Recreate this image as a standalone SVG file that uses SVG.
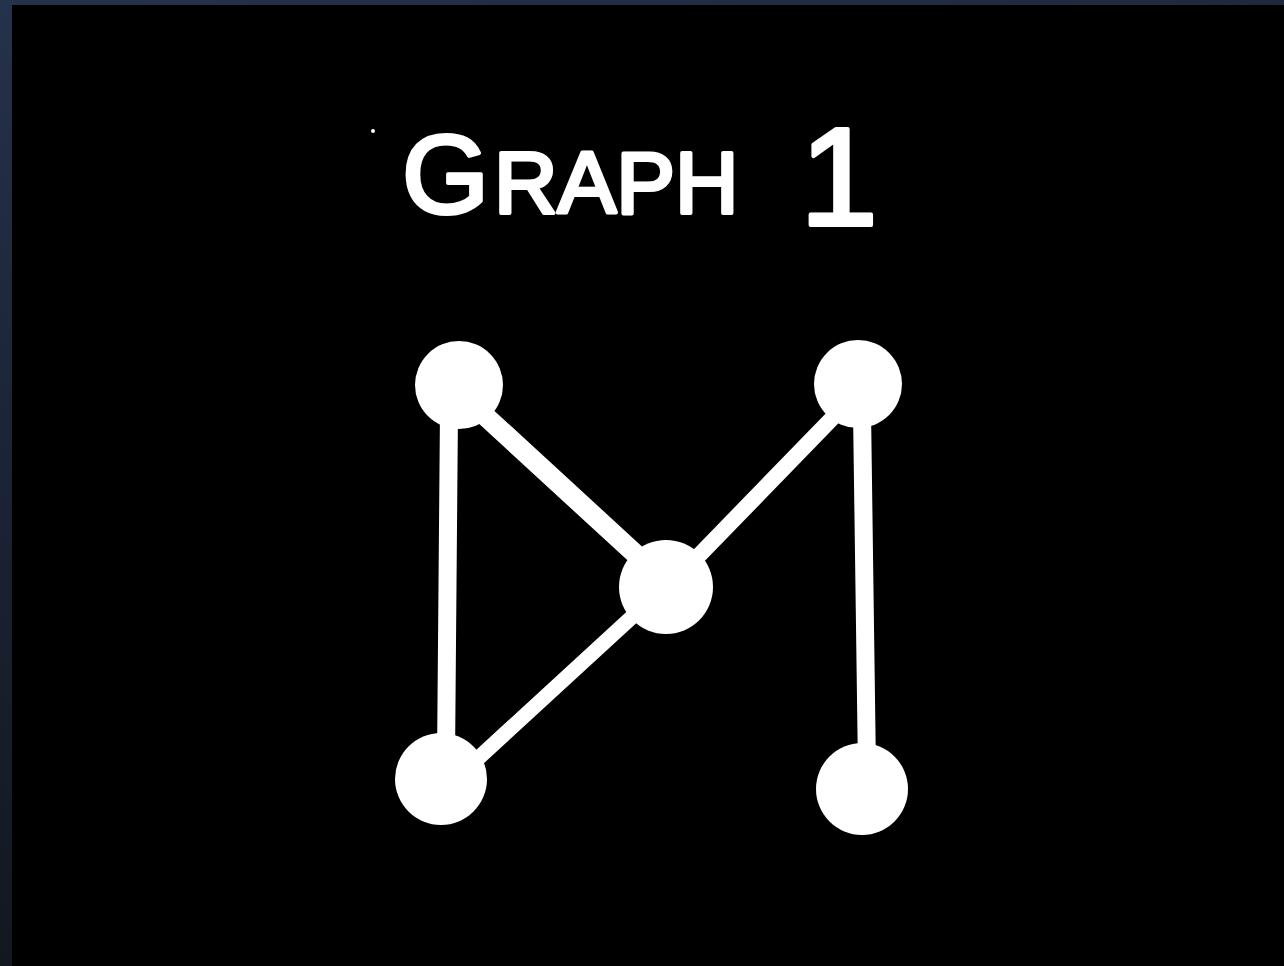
<svg xmlns="http://www.w3.org/2000/svg" width="1284" height="966" viewBox="0 0 1284 966">
  <defs>
    <linearGradient id="bg" x1="0" y1="0" x2="0.3" y2="1">
      <stop offset="0" stop-color="#24324b"/>
      <stop offset="0.5" stop-color="#1a2233"/>
      <stop offset="1" stop-color="#11151c"/>
    </linearGradient>
    <style>
      .edge { stroke: #ffffff; stroke-linecap: round; fill: none; }
      .node { fill: #ffffff; }
      .title { font-family: "Liberation Sans", Arial, sans-serif; font-size: 88px; fill: #ffffff; stroke: #ffffff; stroke-width: 4; stroke-linejoin: round; }
    </style>
  </defs>
  <rect x="0" y="0" width="1284" height="966" fill="url(#bg)"/>
  <rect x="12" y="5" width="1272" height="961" fill="#000000"/>

  <g id="title">
    <circle cx="373" cy="131" r="2" fill="#ffffff"/>
    <text class="title" x="402" y="213"><tspan font-size="112">G</tspan><tspan x="494">RAPH</tspan><tspan x="800" y="225" font-size="140">1</tspan></text>
  </g>

  <g id="connectors">
    <line class="edge" x1="449" y1="410" x2="446" y2="760" stroke-width="18"/>
    <line class="edge" x1="470" y1="402" x2="655" y2="572" stroke-width="20"/>
    <line class="edge" x1="848" y1="402" x2="680" y2="575" stroke-width="16"/>
    <line class="edge" x1="645" y1="605" x2="460" y2="775" stroke-width="15"/>
    <line class="edge" x1="862" y1="410" x2="867" y2="770" stroke-width="18"/>
  </g>

  <g id="node-top-left"><circle class="node" cx="459" cy="385" r="44"/></g>
  <g id="node-top-right"><circle class="node" cx="858" cy="384" r="44"/></g>
  <g id="node-center"><circle class="node" cx="666" cy="587" r="47"/></g>
  <g id="node-bottom-left"><circle class="node" cx="441" cy="779" r="46"/></g>
  <g id="node-bottom-right"><circle class="node" cx="862" cy="789" r="46"/></g>
</svg>
